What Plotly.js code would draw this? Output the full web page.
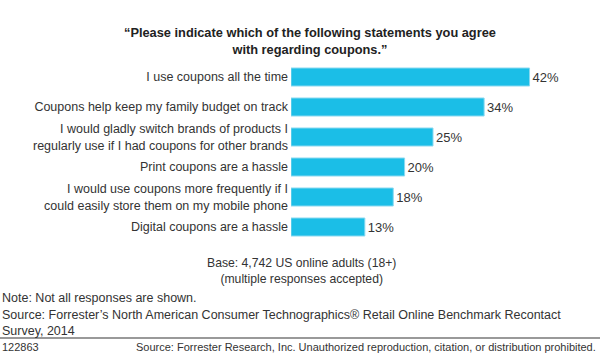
<!DOCTYPE html>
<html>
<head>
<meta charset="utf-8">
<script src="https://cdn.plot.ly/plotly-3.0.1.min.js"></script>
<style>
html,body{margin:0;padding:0;background:#fff;}
#chart{width:600px;height:356px;}
</style>
</head>
<body>
<div id="chart"></div>
<script>
const categories = [
  "I use coupons all the time",
  "Coupons help keep my family budget on track",
  "I would gladly switch brands of products I<br>regularly use if I had coupons for other brands",
  "Print coupons are a hassle",
  "I would use coupons more frequently if I<br>could easily store them on my mobile phone",
  "Digital coupons are a hassle"
];
const values = [42, 34, 25, 20, 18, 13];

const FONT = "Liberation Sans, Arial, Helvetica, sans-serif";
const TXT = "#333333";

const trace = {
  type: "bar",
  orientation: "h",
  y: categories,
  x: values,
  marker: {color: "#1bbee7", line: {color: "#8ad9f0", width: 1}},
  text: values.map(v => v + "%"),
  textposition: "outside",
  cliponaxis: false,
  textfont: {family: FONT, size: 13, color: TXT},
  hoverinfo: "skip"
};

const L = -291 / 284;
function below(px) { return -(px - 242); }

const layout = {
  width: 600, height: 356,
  margin: {l: 291, r: 25, t: 62, b: 114},
  paper_bgcolor: "#ffffff",
  plot_bgcolor: "#ffffff",
  showlegend: false,
  bargap: 0.4,
  font: {family: FONT, color: TXT},
  xaxis: {range: [0, 50], visible: false, fixedrange: true},
  yaxis: {
    autorange: "reversed",
    showgrid: false, zeroline: false, showline: false,
    ticks: "", ticklen: 0,
    tickfont: {family: FONT, size: 12.5, color: TXT},
    ticklabelstandoff: 2,
    fixedrange: true
  },
  annotations: [
    {text: "<b>\u201cPlease indicate which of the following statements you agree<br>with regarding coupons.\u201d</b>",
     xref: "paper", yref: "paper", x: (310 - 291) / 284, y: 1, xanchor: "center", yanchor: "bottom",
     yshift: 3, showarrow: false, align: "center",
     font: {family: FONT, size: 12.8, color: "#222222"}},
    {text: "Base: 4,742 US online adults (18+)<br>(multiple responses accepted)",
     xref: "paper", yref: "paper", x: (301 - 291) / 284, y: 0, xanchor: "center", yanchor: "top",
     yshift: below(254), showarrow: false, align: "center",
     font: {family: FONT, size: 12.2, color: TXT}},
    {text: "Note: Not all responses are shown.",
     xref: "paper", yref: "paper", x: L, y: 0, xanchor: "left", yanchor: "top",
     yshift: below(289), showarrow: false, align: "left",
     font: {family: FONT, size: 12.5, color: TXT}},
    {text: "Source: Forrester\u2019s North American Consumer Technographics\u00ae Retail Online Benchmark Recontact",
     xref: "paper", yref: "paper", x: L, y: 0, xanchor: "left", yanchor: "top",
     yshift: below(306), showarrow: false, align: "left",
     font: {family: FONT, size: 12.5, color: TXT}},
    {text: "Survey, 2014",
     xref: "paper", yref: "paper", x: L, y: 0, xanchor: "left", yanchor: "top",
     yshift: below(322), showarrow: false, align: "left",
     font: {family: FONT, size: 12.5, color: TXT}},
    {text: "122863",
     xref: "paper", yref: "paper", x: L, y: 0, xanchor: "left", yanchor: "top",
     yshift: below(339), showarrow: false, align: "left",
     font: {family: FONT, size: 11, color: TXT}},
    {text: "Source: Forrester Research, Inc. Unauthorized reproduction, citation, or distribution prohibited.",
     xref: "paper", yref: "paper", x: (598 - 291) / 284, y: 0, xanchor: "right", yanchor: "top",
     yshift: below(339), showarrow: false, align: "right",
     font: {family: FONT, size: 11, color: TXT}}
  ],
  shapes: [
    {type: "line", xref: "paper", yref: "paper",
     x0: L, x1: 309 / 284, y0: below(338) / 180, y1: below(338) / 180,
     line: {color: "#777777", width: 1.5}}
  ]
};

Plotly.newPlot("chart", [trace], layout, {displayModeBar: false, staticPlot: true});
</script>
</body>
</html>
